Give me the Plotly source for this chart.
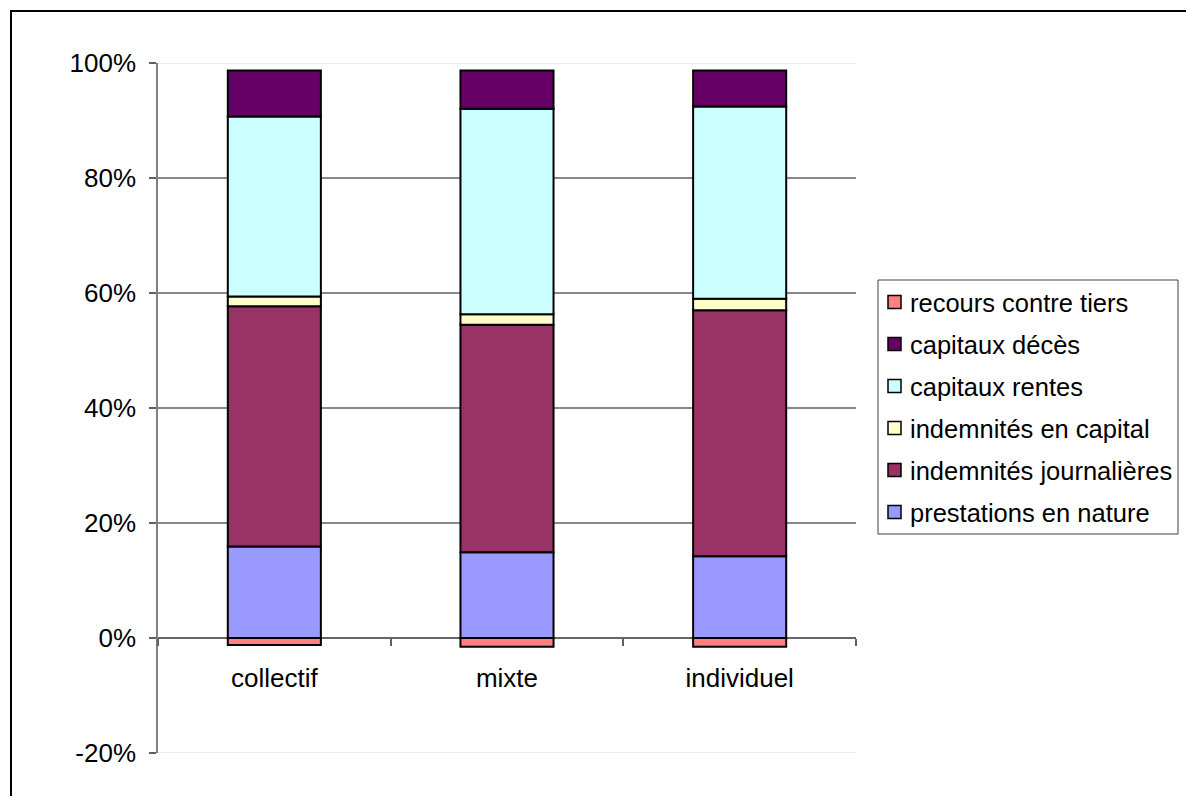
import plotly.graph_objects as go

# Répartition des prestations par type de contrat (en %)
categories = ["collectif", "mixte", "individuel"]

series_names = [
    "prestations en nature",
    "indemnités journalières",
    "indemnités en capital",
    "capitaux rentes",
    "capitaux décès",
    "recours contre tiers",
]

prestations_nature = [15.9, 14.9, 14.2]
indemnites_journalieres = [41.8, 39.6, 42.8]
indemnites_capital = [1.7, 1.8, 2.0]
capitaux_rentes = [31.3, 35.75, 33.45]
capitaux_deces = [8.0, 6.65, 6.25]
recours_tiers = [-1.2, -1.5, -1.5]

series_values = [
    prestations_nature,
    indemnites_journalieres,
    indemnites_capital,
    capitaux_rentes,
    capitaux_deces,
    recours_tiers,
]

colors = ["#9999FF", "#993366", "#FFFFCC", "#CCFFFF", "#660066", "#FF8080"]

y_ticks = [-20, 0, 20, 40, 60, 80, 100]
y_labels = ["-20%", "0%", "20%", "40%", "60%", "80%", "100%"]

FONT = "Liberation Sans, Arial, sans-serif"
W, H = 1186, 796
L, R, T, B = 158, 330, 63, 43
pw, ph = W - L - R, H - T - B
y_min, y_max = -20, 100


def px_x(x):
    return (x - L) / pw


def px_y(y):
    return (H - B - y) / ph


fig = go.Figure()
for name, vals, col in zip(series_names, series_values, colors):
    fig.add_trace(go.Bar(
        x=categories, y=vals, name=name,
        marker=dict(color=col, line=dict(color="black", width=2)),
        width=0.4, showlegend=False,
    ))

shapes = []
annotations = []

# horizontal gridlines
for v in y_ticks:
    edge = v in (y_min, y_max)
    shapes.append(dict(
        type="line", xref="paper", yref="y", x0=0, x1=1, y0=v, y1=v,
        line=dict(color="#E4E4E4" if edge else ("#333333" if v == 0 else "#606060"), width=1.5),
        layer="below",
    ))

# legend box, top entry = last series
box_l, box_r, box_t, box_b = 878, 1178, 280, 534
shapes.append(dict(
    type="rect", xref="paper", yref="paper",
    x0=px_x(box_l), x1=px_x(box_r), y0=px_y(box_b), y1=px_y(box_t),
    line=dict(color="#404040", width=1), fillcolor="white",
))
row0, row_step = 302, 42
for i, (name, col) in enumerate(zip(series_names[::-1], colors[::-1])):
    yc = row0 + i * row_step
    shapes.append(dict(
        type="rect", xref="paper", yref="paper",
        x0=px_x(888), x1=px_x(901), y0=px_y(yc + 6.5), y1=px_y(yc - 6.5),
        line=dict(color="black", width=1.5), fillcolor=col,
    ))
    annotations.append(dict(
        xref="paper", yref="paper", x=px_x(908), y=px_y(yc + 1),
        xanchor="left", yanchor="middle", showarrow=False,
        text=name, font=dict(family=FONT, size=25.5, color="black"),
    ))

# outer chart frame
shapes.append(dict(
    type="rect", xref="paper", yref="paper",
    x0=px_x(11), x1=px_x(1200), y0=px_y(810), y1=px_y(11),
    line=dict(color="black", width=2), fillcolor="rgba(0,0,0,0)",
))

fig.update_layout(
    width=W, height=H,
    margin=dict(l=L, r=R, t=T, b=B, pad=0),
    barmode="relative",
    plot_bgcolor="white", paper_bgcolor="white",
    font=dict(family=FONT, size=26, color="black"),
    shapes=shapes,
    annotations=annotations,
    showlegend=False,
    xaxis=dict(
        anchor="free", position=(0 - y_min) / (y_max - y_min),
        showgrid=False, showline=False, zeroline=False,
        ticks="outside", tickson="boundaries", ticklen=7, tickwidth=1.5,
        tickcolor="#606060", ticklabelstandoff=22,
        tickfont=dict(size=26),
    ),
    yaxis=dict(
        range=[y_min, y_max], tickvals=y_ticks, ticktext=y_labels,
        showgrid=False, zeroline=False,
        showline=True, linecolor="#808080", linewidth=1.5,
        ticks="outside", ticklen=7, tickwidth=1.5, tickcolor="#606060",
        tickfont=dict(size=26), ticklabelstandoff=8,
    ),
)

fig.write_html("out.html")
